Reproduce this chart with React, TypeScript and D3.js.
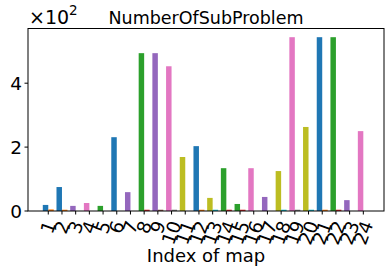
import React, { useEffect } from 'react';
import * as d3 from 'd3';

// map indices shown on the x axis
const maps = ['1', '2', '3', '4', '5', '6', '7', '8', '9', '10', '11', '12',
  '13', '14', '15', '16', '17', '18', '19', '20', '21', '22', '23', '24'];

// tall bar of each map (number of sub problems)
const mainValues = [19, 75, 16, 25, 16, 231, 59, 494, 494, 453, 169, 203,
  41, 134, 22, 134, 44, 125, 544, 263, 544, 544, 34, 250];

// small bar next to it
const sideValues = [5, 4, 0, 0, 0, 0, 0, 4, 4, 4, 0, 4,
  4, 4, 4, 0, 0, 4, 4, 4, 4, 4, 0, 0];

// colour group of each map (index into the pairs below)
const groups = [0, 0, 2, 3, 1, 0, 2, 1, 2, 3, 4, 0,
  4, 1, 1, 3, 2, 4, 3, 4, 0, 1, 2, 3];

const yTicks = [0, 2, 4];

const mainColors = ['#1f77b4', '#2ca02c', '#9467bd', '#e377c2', '#bcbd22'];
const sideColors = ['#ff7f0e', '#d62728', '#8c564b', '#7f7f7f', '#17becf'];

const W = 392;
const H = 273;
const margin = { top: 28.5, right: 8, bottom: 62, left: 28 };
const FONT = 'DejaVu Sans, sans-serif';
const FS = 18.5;

const App = () => {
  useEffect(() => {
    document.body.style.margin = '0';
  }, []);

  const x0 = margin.left;
  const x1 = W - margin.right;
  const y0 = H - margin.bottom;
  const y1 = margin.top;

  const x = d3.scaleLinear().domain([-0.48, 25.51]).range([x0, x1]);
  const y = d3.scaleLinear().domain([0, 5.712]).range([y0, y1]);
  const bw = x(0.4) - x(0);

  const labelTop = y0 + 3.5 + 3.5;
  const rad = (70 * Math.PI) / 180;

  return (
    <svg width={W} height={H} style={{ display: 'block' }} fontFamily={FONT}>
      <rect width={W} height={H} fill="white" />
      {maps.map((m, i) => {
        const xi = i + 1;
        const v = mainValues[i] / 100;
        const s = sideValues[i] / 100;
        return (
          <g key={m}>
            <rect x={x(xi - 0.4)} y={y(v)} width={bw} height={y0 - y(v)} fill={mainColors[groups[i]]} />
            {s > 0 && (
              <rect x={x(xi)} y={y(s)} width={bw} height={y0 - y(s)} fill={sideColors[groups[i]]} />
            )}
          </g>
        );
      })}
      <rect x={x0} y={y1} width={x1 - x0} height={y0 - y1} fill="none" stroke="black" strokeWidth={1} />
      {yTicks.map((t) => (
        <g key={t}>
          <line x1={x0 - 3.5} x2={x0} y1={y(t)} y2={y(t)} stroke="black" />
          <text x={x0 - 6} y={y(t)} textAnchor="end" dominantBaseline="central" fontSize={FS}>{t}</text>
        </g>
      ))}
      {maps.map((m, i) => {
        const xi = x(i + 1);
        const tw = m.length * 0.636 * FS;
        const th = 1.16 * FS;
        const bh = tw * Math.sin(rad) + th * Math.cos(rad);
        const cy = labelTop + bh / 2;
        return (
          <g key={'t' + m}>
            <line x1={xi} x2={xi} y1={y0} y2={y0 + 3.5} stroke="black" />
            <text x={xi} y={cy} textAnchor="middle" dominantBaseline="central" fontSize={FS}
              transform={`rotate(-70 ${xi} ${cy})`}>{m}</text>
          </g>
        );
      })}
      <text x={(x0 + x1) / 2} y={24} textAnchor="middle" fontSize={17.5}>NumberOfSubProblem</text>
      <text x={29} y={24} fontSize={19}>×10<tspan dy={-9} fontSize={13.5}>2</tspan></text>
      <text x={(x0 + x1) / 2} y={262} textAnchor="middle" fontSize={18}>Index of map</text>
    </svg>
  );
};

export default App;
